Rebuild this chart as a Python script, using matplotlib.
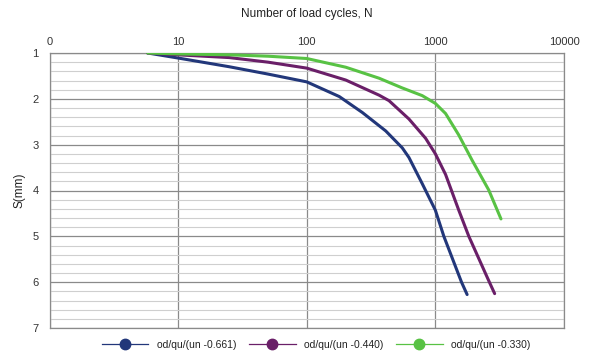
import matplotlib
matplotlib.use("Agg")
import matplotlib.pyplot as plt
from matplotlib.ticker import FixedLocator, FixedFormatter, MultipleLocator, NullFormatter
from matplotlib.lines import Line2D

plt.rcParams['font.family'] = ['Liberation Sans', 'DejaVu Sans']

series_labels = ["od/qu/(un -0.661)", "od/qu/(un -0.440)", "od/qu/(un -0.330)"]
series_colors = ["#22377a", "#6a1f68", "#58c244"]

blue_N = [5.8, 10, 25, 50, 100, 179, 271, 411, 553, 623, 790, 1000, 1164, 1597, 1765]
blue_S = [1.0, 1.11, 1.3, 1.46, 1.63, 1.95, 2.3, 2.7, 3.07, 3.28, 3.85, 4.43, 5.0, 6.0, 6.27]

purple_N = [5.8, 10, 25, 50, 100, 201, 365, 436, 623, 839, 1000, 1200, 1520, 1820, 2630, 2890]
purple_S = [1.0, 1.04, 1.1, 1.2, 1.33, 1.59, 1.92, 2.04, 2.44, 2.86, 3.2, 3.65, 4.43, 5.0, 6.0, 6.25]

green_N = [5.8, 10, 25, 50, 100, 201, 365, 550, 790, 1000, 1200, 1520, 1930, 2600, 3236]
green_S = [1.0, 1.02, 1.04, 1.07, 1.12, 1.31, 1.55, 1.76, 1.93, 2.10, 2.32, 2.79, 3.34, 3.99, 4.62]

x_ticks = [1, 10, 100, 1000, 10000]
x_tick_labels = ["0", "10", "100", "1000", "10000"]
y_ticks = [1, 2, 3, 4, 5, 6, 7]

fig = plt.figure(figsize=(5.95, 3.59), dpi=100)
ax = fig.add_axes([49.5/595, 1-328/359, (564-49.5)/595, (328-53)/359])

ax.set_xscale('log')
ax.set_xlim(1, 10000)
ax.set_ylim(7, 1)

for N, S, lab, col in zip([blue_N, purple_N, green_N], [blue_S, purple_S, green_S],
                          series_labels, series_colors):
    ax.plot(N, S, color=col, lw=2.2, solid_capstyle='round', solid_joinstyle='round',
            label=lab, zorder=3)

ax.xaxis.set_major_locator(FixedLocator(x_ticks))
ax.xaxis.set_major_formatter(FixedFormatter(x_tick_labels))
ax.xaxis.set_minor_locator(FixedLocator([]))
ax.xaxis.set_minor_formatter(NullFormatter())
ax.xaxis.tick_top()
ax.yaxis.set_major_locator(FixedLocator(y_ticks))
ax.yaxis.set_minor_locator(MultipleLocator(0.2))

ax.tick_params(axis='both', which='both', length=0, labelsize=8, colors='#333333')
ax.tick_params(axis='x', pad=4)
ax.tick_params(axis='y', pad=8)

ax.grid(True, which='major', axis='both', color='#8a8a8a', lw=0.9)
ax.grid(True, which='minor', axis='y', color='#cfcfcf', lw=0.8)
ax.set_axisbelow(True)

for side in ['left', 'right', 'top', 'bottom']:
    ax.spines[side].set_color('#8a8a8a')
    ax.spines[side].set_linewidth(0.9)

fig.text(307/595, 1-14/359, "Number of load cycles, N", ha='center', va='center',
         fontsize=8.5, color='#222222')
fig.text(20/595, 1-190/359, "S(mm)", ha='center', va='center', rotation=90,
         fontsize=8.5, color='#222222')

handles = [Line2D([0], [0], color=c, lw=0.9, marker='o', markersize=7.5,
                  markerfacecolor=c, markeredgecolor=c) for c in series_colors]
fig.legend(handles, series_labels, loc='center', bbox_to_anchor=(316/595, 1-345/359),
           ncol=3, frameon=False, fontsize=7.5, handlelength=4.5, handletextpad=0.8,
           columnspacing=1.2, labelcolor='#222222')

fig.savefig("out.png", dpi=100)
